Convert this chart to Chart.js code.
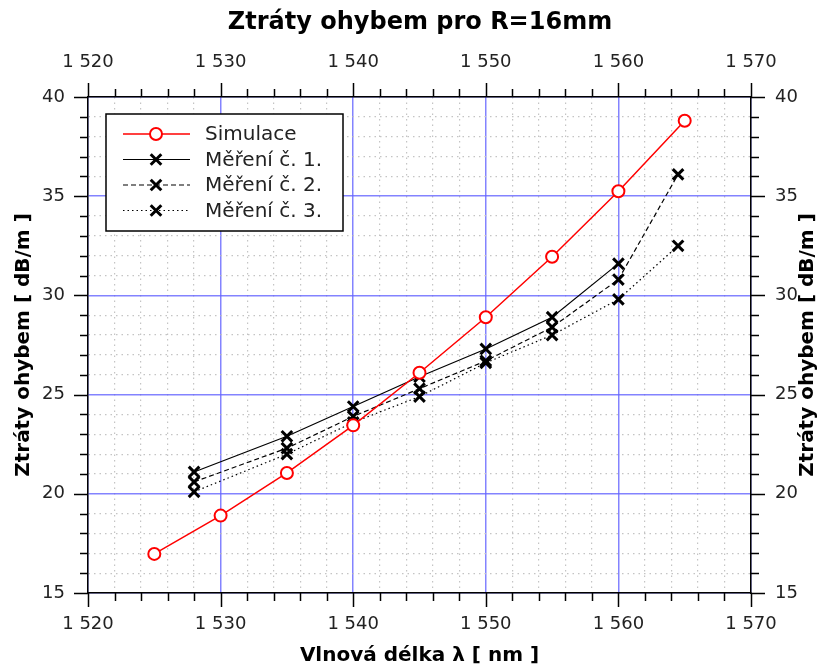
<!DOCTYPE html>
<html>
<head>
<meta charset="utf-8">
<title>Ztráty ohybem</title>
<script src="https://cdn.jsdelivr.net/npm/chart.js@4.4.0/dist/chart.umd.min.js"></script>
<style>
  html, body { margin: 0; padding: 0; background: #fff; }
</style>
</head>
<body>
<canvas id="bendLoss" width="826" height="666"></canvas>
<script>
// simulated bend loss, R = 16 mm
const simWavelength = [1525, 1530, 1535, 1540, 1545, 1550, 1555, 1560, 1565];
const simLoss = [16.97, 18.9, 21.05, 23.45, 26.1, 28.9, 31.95, 35.25, 38.8];

// three measurement runs (run 1 has no point at 1564.5 nm)
const measWavelength = [1528, 1535, 1540, 1545, 1550, 1555, 1560, 1564.5];
const meas1 = [21.1, 22.9, 24.4, 25.9, 27.3, 28.9, 31.6];
const meas2 = [20.6, 22.3, 23.9, 25.3, 26.7, 28.4, 30.8, 36.1];
const meas3 = [20.1, 22.0, 23.6, 24.9, 26.6, 28.0, 29.8, 32.5];

const xLabelTicks = [1520, 1530, 1540, 1550, 1560, 1570];
const yLabelTicks = [15, 20, 25, 30, 35, 40];

const chartTitle = 'Ztráty ohybem pro R=16mm';
const xTitle = 'Vlnová délka λ [ nm ]';
const yTitle = 'Ztráty ohybem [ dB/m ]';

const FONT = '"DejaVu Sans", Verdana, sans-serif';

function toPoints(xs, ys) {
    return ys.map((y, i) => ({ x: xs[i], y: y }));
}

function fmtThousands(v) {
    return String(v).replace(/(\d)(?=(\d{3})+$)/, '$1 ');
}

function isMajorX(v) { return xLabelTicks.includes(v); }
function isMajorY(v) { return yLabelTicks.includes(v); }

// outward tick marks on all four sides, longer on labelled values
const tickMarks = {
    id: 'tickMarks',
    afterDraw(chart) {
        const ctx = chart.ctx;
        const a = chart.chartArea;
        ctx.save();
        ctx.strokeStyle = '#000';
        ctx.lineWidth = 1.5;
        ctx.beginPath();
        ['x', 'x2'].forEach(id => {
            const s = chart.scales[id];
            const edge = id === 'x' ? a.bottom : a.top;
            const dir = id === 'x' ? 1 : -1;
            s.ticks.forEach(t => {
                const px = Math.round(s.getPixelForValue(t.value)) + 0.5;
                ctx.moveTo(px, edge);
                ctx.lineTo(px, edge + dir * (isMajorX(t.value) ? 14 : 8));
            });
        });
        ['y', 'y2'].forEach(id => {
            const s = chart.scales[id];
            const edge = id === 'y' ? a.left : a.right;
            const dir = id === 'y' ? -1 : 1;
            s.ticks.forEach(t => {
                const py = Math.round(s.getPixelForValue(t.value)) + 0.5;
                ctx.moveTo(edge, py);
                ctx.lineTo(edge + dir * (isMajorY(t.value) ? 14 : 8), py);
            });
        });
        ctx.stroke();
        ctx.restore();
    }
};

// right axis title, same reading direction as the left one
const rightTitle = {
    id: 'rightTitle',
    afterDraw(chart) {
        const ctx = chart.ctx;
        const a = chart.chartArea;
        ctx.save();
        ctx.translate(chart.width - 18, (a.top + a.bottom) / 2);
        ctx.rotate(-Math.PI / 2);
        ctx.font = 'bold 20px ' + FONT;
        ctx.fillStyle = '#000';
        ctx.textAlign = 'center';
        ctx.textBaseline = 'middle';
        ctx.fillText(yTitle, 0, 0);
        ctx.restore();
    }
};

// boxed legend inside the plot, line sample with marker
const boxLegend = {
    id: 'boxLegend',
    afterDatasetsDraw(chart) {
        const ctx = chart.ctx;
        const a = chart.chartArea;
        const x0 = a.left + 18, y0 = a.top + 17, w = 237, h = 117;
        ctx.save();
        ctx.fillStyle = '#fff';
        ctx.fillRect(x0, y0, w, h);
        ctx.strokeStyle = '#000';
        ctx.lineWidth = 1.5;
        ctx.strokeRect(x0, y0, w, h);
        chart.data.datasets.forEach((ds, i) => {
            const cy = y0 + 20 + i * 25.5;
            ctx.beginPath();
            ctx.setLineDash(ds.borderDash || []);
            ctx.strokeStyle = ds.borderColor;
            ctx.lineWidth = ds.borderWidth;
            ctx.moveTo(x0 + 17, cy);
            ctx.lineTo(x0 + 84, cy);
            ctx.stroke();
            ctx.setLineDash([]);
            ctx.fillStyle = ds.pointBackgroundColor;
            ctx.strokeStyle = ds.pointBorderColor;
            ctx.lineWidth = ds.pointBorderWidth;
            Chart.helpers.drawPoint(ctx, {
                pointStyle: ds.pointStyle, radius: ds.pointRadius, borderWidth: ds.pointBorderWidth, rotation: 0
            }, x0 + 50, cy);
            ctx.fillStyle = '#222';
            ctx.font = '20px ' + FONT;
            ctx.textAlign = 'left';
            ctx.textBaseline = 'middle';
            ctx.fillText(ds.label, x0 + 99, cy + 1);
        });
        ctx.restore();
    }
};

const MAJOR_GRID = 'rgba(100,100,255,0.8)';
const MINOR_GRID = '#c4c4c4';
const gridColorX = c => (c.tick && isMajorX(c.tick.value)) ? MAJOR_GRID : MINOR_GRID;
const gridColorY = c => (c.tick && isMajorY(c.tick.value)) ? MAJOR_GRID : MINOR_GRID;
const gridWidthX = c => (c.tick && isMajorX(c.tick.value)) ? 1.5 : 1.2;
const gridWidthY = c => (c.tick && isMajorY(c.tick.value)) ? 1.5 : 1.2;
const gridDashX = c => (c.tick && !isMajorX(c.tick.value)) ? [1.5, 4] : [];
const gridDashY = c => (c.tick && !isMajorY(c.tick.value)) ? [1.5, 4] : [];

const tickFont = { family: FONT, size: 18 };
const titleFont = { family: FONT, size: 20, weight: 'bold', lineHeight: 1 };

const blackMeas = {
    borderColor: '#000',
    borderWidth: 1.2,
    pointStyle: 'crossRot',
    pointRadius: 7.5,
    pointHoverRadius: 7.5,
    pointBorderWidth: 3,
    pointBorderColor: '#000',
    pointBackgroundColor: '#000',
    fill: false
};

new Chart(document.getElementById('bendLoss'), {
    type: 'line',
    data: {
        datasets: [{
            label: 'Simulace',
            data: toPoints(simWavelength, simLoss),
            borderColor: '#ff0000',
            borderWidth: 1.5,
            pointStyle: 'circle',
            pointRadius: 6,
            pointHoverRadius: 6,
            pointBorderWidth: 2,
            pointBorderColor: '#ff0000',
            pointBackgroundColor: '#fff',
            fill: false
        }, Object.assign({
            label: 'Měření č. 1.',
            data: toPoints(measWavelength, meas1),
            borderDash: []
        }, blackMeas), Object.assign({
            label: 'Měření č. 2.',
            data: toPoints(measWavelength, meas2),
            borderDash: [5, 3]
        }, blackMeas), Object.assign({
            label: 'Měření č. 3.',
            data: toPoints(measWavelength, meas3),
            borderDash: [1.5, 3]
        }, blackMeas)]
    },
    options: {
        responsive: false,
        animation: false,
        devicePixelRatio: 1,
        layout: { padding: { left: 14, right: 0, top: 0, bottom: 0 } },
        plugins: {
            legend: { display: false },
            tooltip: { enabled: false },
            title: {
                display: true,
                text: chartTitle,
                color: '#000',
                font: { family: FONT, size: 24, weight: 'bold' },
                padding: { top: 8, bottom: 0 }
            }
        },
        scales: {
            x: {
                type: 'linear',
                position: 'bottom',
                min: 1520,
                max: 1570,
                afterFit: s => { s.height = 73; },
                ticks: {
                    stepSize: 2,
                    autoSkip: false,
                    maxRotation: 0,
                    padding: 13,
                    color: '#222',
                    font: tickFont,
                    callback: v => isMajorX(v) ? fmtThousands(v) : ''
                },
                grid: { color: gridColorX, lineWidth: gridWidthX, tickColor: 'transparent', tickLength: 8 },
                border: { display: true, color: '#000', width: 1.5, dash: gridDashX },
                title: { display: true, text: xTitle, color: '#000', font: titleFont, padding: { top: 0, bottom: 0 } }
            },
            x2: {
                type: 'linear',
                position: 'top',
                min: 1520,
                max: 1570,
                afterFit: s => { s.height = 97 - 36.8; },
                ticks: {
                    stepSize: 2,
                    autoSkip: false,
                    maxRotation: 0,
                    padding: 16,
                    color: '#222',
                    font: tickFont,
                    callback: v => isMajorX(v) ? fmtThousands(v) : ''
                },
                grid: { drawOnChartArea: false, tickColor: 'transparent', tickLength: 8 },
                border: { display: true, color: '#000', width: 1.5 }
            },
            y: {
                type: 'linear',
                position: 'left',
                min: 15,
                max: 40,
                afterFit: s => { s.width = 74; },
                ticks: {
                    stepSize: 1,
                    autoSkip: false,
                    padding: 15,
                    color: '#222',
                    font: tickFont,
                    callback: v => isMajorY(v) ? String(v) : ''
                },
                grid: { color: gridColorY, lineWidth: gridWidthY, tickColor: 'transparent', tickLength: 8 },
                border: { display: true, color: '#000', width: 1.5, dash: gridDashY },
                title: { display: true, text: yTitle, color: '#000', font: titleFont, padding: { top: 0, bottom: 0 } }
            },
            y2: {
                type: 'linear',
                position: 'right',
                min: 15,
                max: 40,
                afterFit: s => { s.width = 75; },
                ticks: {
                    stepSize: 1,
                    autoSkip: false,
                    padding: 16,
                    color: '#222',
                    font: tickFont,
                    callback: v => isMajorY(v) ? String(v) : ''
                },
                grid: { drawOnChartArea: false, tickColor: 'transparent', tickLength: 8 },
                border: { display: true, color: '#000', width: 1.5 }
            }
        }
    },
    plugins: [tickMarks, rightTitle, boxLegend]
});
</script>
</body>
</html>
